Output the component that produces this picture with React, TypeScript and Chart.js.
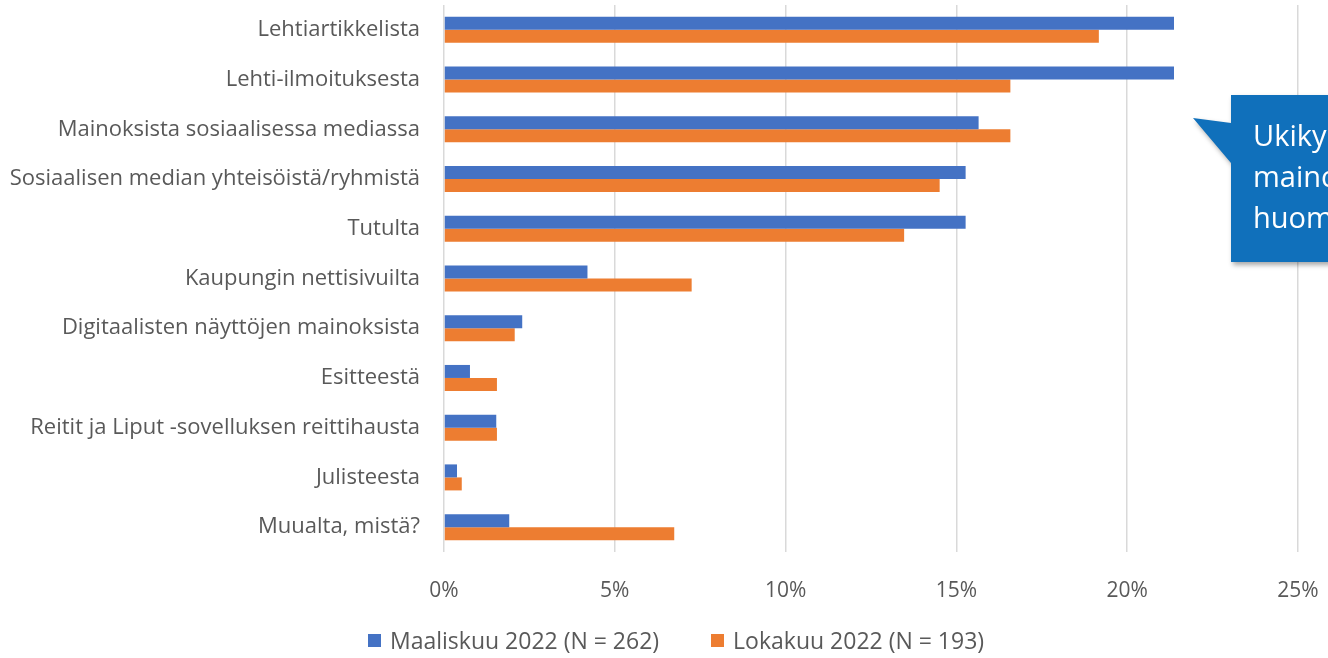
import React, { useEffect, useRef } from "react";
import { Chart, registerables } from "chart.js";

Chart.register(...registerables);

const categories = [
  "Lehtiartikkelista",
  "Lehti-ilmoituksesta",
  "Mainoksista sosiaalisessa mediassa",
  "Sosiaalisen median yhteisöistä/ryhmistä",
  "Tutulta",
  "Kaupungin nettisivuilta",
  "Digitaalisten näyttöjen mainoksista",
  "Esitteestä",
  "Reitit ja Liput -sovelluksen reittihausta",
  "Julisteesta",
  "Muualta, mistä?",
];

const seriesLabels = ["Maaliskuu 2022 (N = 262)", "Lokakuu 2022 (N = 193)"];
const seriesColors = ["#4472C4", "#ED7D31"];

const march2022 = [21.37, 21.37, 15.65, 15.27, 15.27, 4.2, 2.29, 0.76, 1.53, 0.38, 1.91];
const october2022 = [19.17, 16.58, 16.58, 14.51, 13.47, 7.25, 2.07, 1.55, 1.55, 0.52, 6.74];

const xTickValues = [0, 5, 10, 15, 20, 25];

const calloutLines = ["Ukiky", "maino", "huom"];

const FONT = "'Open Sans', 'Noto Sans', sans-serif";
const TEXT_GRAY = "#595959";

const calloutPlugin = {
  id: "callout",
  afterDraw(chart: any) {
    const ctx = chart.ctx as CanvasRenderingContext2D;
    ctx.save();
    ctx.shadowColor = "rgba(0,0,0,0.35)";
    ctx.shadowBlur = 5;
    ctx.shadowOffsetX = 2;
    ctx.shadowOffsetY = 3;
    ctx.fillStyle = "#1070BB";
    ctx.beginPath();
    ctx.moveTo(1231, 95);
    ctx.lineTo(1345, 95);
    ctx.lineTo(1345, 262);
    ctx.lineTo(1231, 262);
    ctx.lineTo(1231, 163);
    ctx.lineTo(1193, 118);
    ctx.lineTo(1231, 123);
    ctx.closePath();
    ctx.fill();
    ctx.shadowColor = "transparent";
    ctx.fillStyle = "#FFFFFF";
    ctx.font = `29px ${FONT}`;
    ctx.textBaseline = "alphabetic";
    ctx.textAlign = "left";
    calloutLines.forEach((line, i) => {
      ctx.fillText(line, 1253, 146 + i * 41);
    });
    ctx.restore();
  },
};

export default function App() {
  const canvasRef = useRef<HTMLCanvasElement | null>(null);

  useEffect(() => {
    document.body.style.margin = "0";
    const canvas = canvasRef.current;
    if (!canvas) return;
    const chart = new Chart(canvas, {
      type: "bar",
      data: {
        labels: categories,
        datasets: [
          {
            label: seriesLabels[0],
            data: march2022,
            backgroundColor: seriesColors[0],
            categoryPercentage: 0.523,
            barPercentage: 1,
          },
          {
            label: seriesLabels[1],
            data: october2022,
            backgroundColor: seriesColors[1],
            categoryPercentage: 0.523,
            barPercentage: 1,
          },
        ],
      },
      options: {
        indexAxis: "y",
        responsive: false,
        animation: false,
        devicePixelRatio: 1,
        layout: { padding: { top: 5, right: 30, bottom: 45, left: 0 } },
        scales: {
          x: {
            type: "linear",
            min: 0,
            max: 25,
            afterBuildTicks(scale: any) {
              scale.ticks = xTickValues.map((v) => ({ value: v }));
            },
            afterFit(scale: any) {
              scale.height = 61;
              scale.paddingLeft = 0;
              scale.paddingRight = 0;
            },
            grid: {
              color: "#D9D9D9",
              lineWidth: 1.5,
              drawTicks: false,
            },
            border: { display: false },
            ticks: {
              padding: 26,
              color: TEXT_GRAY,
              font: { family: FONT, size: 21 },
              callback: (v: any) => `${v}%`,
            },
          },
          y: {
            type: "category",
            afterFit(scale: any) {
              scale.width = 444;
              scale.paddingTop = 0;
              scale.paddingBottom = 0;
            },
            grid: { display: false, drawTicks: false },
            border: { display: false },
            ticks: {
              padding: 24,
              color: TEXT_GRAY,
              font: { family: FONT, size: 22 },
            },
          },
        },
        plugins: {
          legend: { display: false },
          tooltip: { enabled: false },
        },
      },
      plugins: [calloutPlugin],
    } as any);
    return () => chart.destroy();
  }, []);

  return (
    <div
      style={{
        position: "fixed",
        left: 0,
        top: 0,
        width: 1328,
        height: 658,
        overflow: "hidden",
        background: "#fff",
      }}
    >
      <canvas ref={canvasRef} width={1328} height={658} style={{ display: "block" }} />
      <div
        style={{
          position: "absolute",
          left: 368,
          top: 624,
          height: 32,
          display: "flex",
          alignItems: "center",
          gap: 52,
          fontFamily: FONT,
          fontSize: 23,
          color: TEXT_GRAY,
          whiteSpace: "nowrap",
        }}
      >
        {seriesLabels.map((label, i) => (
          <div key={label} style={{ display: "flex", alignItems: "center" }}>
            <span
              style={{
                display: "inline-block",
                width: 13,
                height: 13,
                background: seriesColors[i],
                marginRight: 9,
              }}
            />
            <span>{label}</span>
          </div>
        ))}
      </div>
    </div>
  );
}
